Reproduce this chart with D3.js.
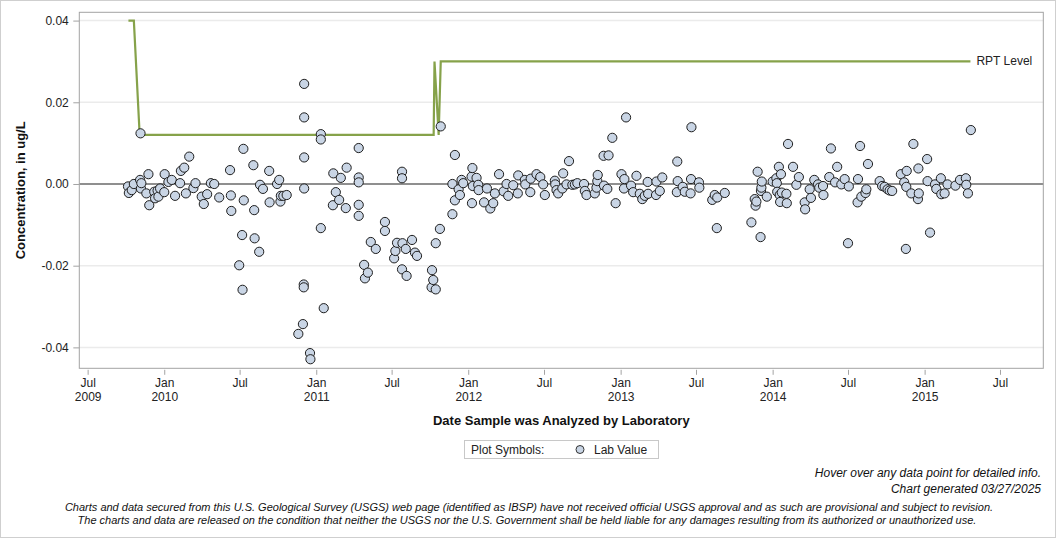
<!DOCTYPE html>
<html>
<head>
<meta charset="utf-8">
<script src="https://cdn.jsdelivr.net/npm/d3@7"></script>
<style>
	body { margin: 0; background: #fff; }
	svg { display: block; font-family: 'Liberation Sans', Arial, sans-serif; }
</style>
</head>
<body>
<div class="content"></div>
<script>
// lab values, [date analyzed, concentration ug/L]
const lab2009 = [
	['2009-10-06', -0.0006], ['2009-10-08', -0.0022], ['2009-10-15', -0.0015], ['2009-10-20', 0.0000],
	['2009-11-04', 0.0010], ['2009-11-05', 0.0124], ['2009-11-06', -0.0011], ['2009-11-07', 0.0002],
	['2009-11-19', -0.0023], ['2009-11-24', 0.0024], ['2009-11-26', -0.0052],
	['2009-12-08', -0.0019], ['2009-12-10', -0.0035], ['2009-12-16', -0.0016], ['2009-12-18', -0.0031], ['2009-12-22', -0.0011]
];
const lab2010 = [
	['2010-01-01', -0.0020], ['2010-01-02', 0.0024], ['2010-01-11', 0.0005], ['2010-01-19', 0.0010], ['2010-01-27', -0.0029],
	['2010-02-08', 0.0002], ['2010-02-10', 0.0032], ['2010-02-18', 0.0040], ['2010-02-22', -0.0023],
	['2010-03-02', 0.0067], ['2010-03-12', -0.0010], ['2010-03-17', 0.0002],
	['2010-04-01', -0.0031], ['2010-04-06', -0.0049], ['2010-04-14', -0.0025], ['2010-04-23', 0.0002],
	['2010-05-01', 0.0000], ['2010-05-13', -0.0033],
	['2010-06-08', 0.0034], ['2010-06-10', -0.0028], ['2010-06-11', -0.0066], ['2010-06-30', -0.0199],
	['2010-07-07', -0.0125], ['2010-07-08', -0.0259], ['2010-07-10', 0.0086], ['2010-07-11', -0.0040],
	['2010-08-03', 0.0046], ['2010-08-05', -0.0064], ['2010-08-06', -0.0133], ['2010-08-17', -0.0166], ['2010-08-19', -0.0002], ['2010-08-26', -0.0012],
	['2010-09-10', 0.0032], ['2010-09-11', -0.0045], ['2010-09-29', 0.0000],
	['2010-10-04', 0.0010], ['2010-10-07', -0.0043], ['2010-10-08', -0.0029], ['2010-10-14', -0.0029], ['2010-10-22', -0.0027],
	['2010-11-19', -0.0367], ['2010-11-30', -0.0343],
	['2010-12-02', -0.0246], ['2010-12-02', -0.0253], ['2010-12-03', 0.0245], ['2010-12-03', 0.0163], ['2010-12-03', 0.0065], ['2010-12-03', -0.0011],
	['2010-12-17', -0.0414], ['2010-12-18', -0.0429]
];
const lab2011 = [
	['2011-01-12', 0.0122], ['2011-01-12', 0.0109], ['2011-01-12', -0.0108], ['2011-01-19', -0.0304],
	['2011-02-10', -0.0052], ['2011-02-11', 0.0026], ['2011-02-17', -0.0020], ['2011-02-25', -0.0039],
	['2011-03-01', 0.0015], ['2011-03-13', -0.0059], ['2011-03-15', 0.0040],
	['2011-04-13', 0.0088], ['2011-04-13', 0.0016], ['2011-04-13', 0.0004], ['2011-04-13', -0.0051], ['2011-04-13', -0.0078],
	['2011-04-26', -0.0198], ['2011-04-28', -0.0231],
	['2011-05-05', -0.0217], ['2011-05-12', -0.0142], ['2011-05-24', -0.0159],
	['2011-06-15', -0.0093], ['2011-06-15', -0.0115],
	['2011-07-07', -0.0182], ['2011-07-10', -0.0164], ['2011-07-14', -0.0144], ['2011-07-26', 0.0030], ['2011-07-26', 0.0014], ['2011-07-26', -0.0209], ['2011-07-27', -0.0145],
	['2011-08-04', -0.0159], ['2011-08-06', -0.0225], ['2011-08-19', -0.0137], ['2011-08-26', -0.0168], ['2011-08-31', -0.0176],
	['2011-10-05', -0.0253], ['2011-10-06', -0.0211], ['2011-10-09', -0.0235], ['2011-10-15', -0.0258], ['2011-10-15', -0.0145], ['2011-10-25', -0.0110], ['2011-10-27', 0.0141],
	['2011-11-24', -0.0074], ['2011-11-24', 0.0000], ['2011-11-30', 0.0071], ['2011-11-30', -0.0040],
	['2011-12-09', -0.0013], ['2011-12-12', -0.0027], ['2011-12-16', 0.0010], ['2011-12-20', 0.0002]
];
const lab2012 = [
	['2012-01-09', 0.0018], ['2012-01-10', -0.0047], ['2012-01-11', 0.0039], ['2012-01-12', -0.0005], ['2012-01-21', 0.0015], ['2012-01-25', -0.0002], ['2012-01-26', -0.0015],
	['2012-02-08', -0.0045], ['2012-02-15', -0.0011], ['2012-02-23', -0.0060],
	['2012-03-01', -0.0047], ['2012-03-05', -0.0023], ['2012-03-15', 0.0024], ['2012-03-26', -0.0018],
	['2012-04-02', 0.0000], ['2012-04-06', -0.0029], ['2012-04-18', -0.0003], ['2012-04-29', -0.0023], ['2012-04-30', 0.0021],
	['2012-05-16', 0.0010], ['2012-05-17', -0.0001], ['2012-05-29', -0.0020], ['2012-05-30', 0.0013],
	['2012-06-13', 0.0024], ['2012-06-22', 0.0017], ['2012-06-29', -0.0001],
	['2012-07-03', -0.0027], ['2012-07-27', 0.0008], ['2012-07-28', -0.0001], ['2012-07-31', -0.0015],
	['2012-08-04', -0.0023], ['2012-08-14', -0.0011], ['2012-08-16', 0.0026], ['2012-08-24', -0.0001], ['2012-08-30', 0.0056],
	['2012-09-07', -0.0002], ['2012-09-13', -0.0001], ['2012-09-19', 0.0002],
	['2012-10-05', 0.0000], ['2012-10-07', -0.0017], ['2012-10-11', -0.0027], ['2012-10-31', -0.0023],
	['2012-11-04', -0.0009], ['2012-11-06', 0.0007], ['2012-11-07', 0.0022], ['2012-11-21', 0.0069], ['2012-11-22', -0.0004], ['2012-11-30', -0.0012],
	['2012-12-03', 0.0070], ['2012-12-12', 0.0113], ['2012-12-20', -0.0047]
];
const lab2013 = [
	['2013-01-03', 0.0024], ['2013-01-09', -0.0011], ['2013-01-10', 0.0012], ['2013-01-14', 0.0163], ['2013-01-26', -0.0004], ['2013-01-31', -0.0020],
	['2013-02-08', 0.0020], ['2013-02-16', -0.0024], ['2013-02-22', -0.0037], ['2013-02-28', -0.0029],
	['2013-03-07', 0.0005], ['2013-03-08', -0.0024], ['2013-03-27', -0.0027], ['2013-03-28', 0.0006],
	['2013-04-05', -0.0017], ['2013-04-11', 0.0016],
	['2013-05-16', -0.0020], ['2013-05-17', 0.0055], ['2013-05-18', 0.0007], ['2013-05-30', -0.0007],
	['2013-06-04', -0.0019], ['2013-06-18', -0.0023], ['2013-06-19', 0.0012], ['2013-06-20', 0.0139],
	['2013-07-08', 0.0004], ['2013-07-09', -0.0009],
	['2013-08-09', -0.0039], ['2013-08-15', -0.0027], ['2013-08-20', -0.0108], ['2013-08-21', -0.0033],
	['2013-09-08', -0.0022],
	['2013-11-11', -0.0094], ['2013-11-19', -0.0037], ['2013-11-21', -0.0053], ['2013-11-23', -0.0043], ['2013-11-26', 0.0030],
	['2013-12-03', -0.0130], ['2013-12-04', -0.0017], ['2013-12-05', -0.0009], ['2013-12-06', 0.0006], ['2013-12-18', -0.0031]
];
const lab2014 = [
	['2014-01-01', 0.0006], ['2014-01-10', 0.0014], ['2014-01-11', 0.0002], ['2014-01-12', -0.0019], ['2014-01-16', 0.0042], ['2014-01-18', -0.0027], ['2014-01-19', -0.0044], ['2014-01-21', 0.0024], ['2014-01-23', -0.0021],
	['2014-02-03', -0.0024], ['2014-02-04', -0.0047], ['2014-02-07', 0.0098], ['2014-02-19', 0.0042], ['2014-02-27', -0.0002],
	['2014-03-05', 0.0017], ['2014-03-19', -0.0045], ['2014-03-20', -0.0062], ['2014-03-31', -0.0013],
	['2014-04-03', -0.0034], ['2014-04-11', 0.0010], ['2014-04-20', -0.0001], ['2014-04-23', -0.0009],
	['2014-05-02', -0.0005], ['2014-05-03', -0.0027], ['2014-05-17', 0.0017], ['2014-05-21', 0.0087], ['2014-05-31', 0.0004],
	['2014-06-05', 0.0042], ['2014-06-15', -0.0001], ['2014-06-23', 0.0012],
	['2014-07-01', -0.0145], ['2014-07-03', -0.0006], ['2014-07-24', -0.0045], ['2014-07-25', 0.0012], ['2014-07-30', 0.0093],
	['2014-08-02', -0.0031], ['2014-08-12', -0.0022], ['2014-08-14', -0.0013], ['2014-08-18', 0.0049],
	['2014-09-15', 0.0007], ['2014-09-21', -0.0005], ['2014-09-27', -0.0007],
	['2014-10-04', -0.0013], ['2014-10-09', -0.0016], ['2014-10-15', -0.0017],
	['2014-11-05', 0.0024], ['2014-11-13', 0.0004], ['2014-11-17', -0.0159], ['2014-11-18', -0.0007], ['2014-11-19', 0.0032], ['2014-11-30', -0.0023],
	['2014-12-05', 0.0098], ['2014-12-16', -0.0037], ['2014-12-17', 0.0038], ['2014-12-18', -0.0023]
];
const lab2015 = [
	['2015-01-07', 0.0061], ['2015-01-08', 0.0007], ['2015-01-14', -0.0119], ['2015-01-26', -0.0001], ['2015-01-29', -0.0012],
	['2015-02-09', 0.0014], ['2015-02-10', -0.0025], ['2015-02-18', -0.0023], ['2015-02-25', -0.0001],
	['2015-03-16', -0.0004], ['2015-03-27', 0.0010],
	['2015-04-10', 0.0014], ['2015-04-11', -0.0002], ['2015-04-15', -0.0023], ['2015-04-22', 0.0132]
];

// reporting level at the sample dates where it changes
const rptLevel = [
	['2009-10-07', 0.04], ['2009-10-20', 0.04], ['2009-11-03', 0.012], ['2011-10-10', 0.012],
	['2011-10-12', 0.03], ['2011-10-22', 0.012], ['2011-10-27', 0.03], ['2015-04-21', 0.03]
];

const xTicks = ['2009-07-01', '2010-01-01', '2010-07-01', '2011-01-01', '2011-07-01', '2012-01-01', '2012-07-01',
	'2013-01-01', '2013-07-01', '2014-01-01', '2014-07-01', '2015-01-01', '2015-07-01'];
const yTicks = [-0.04, -0.02, 0, 0.02, 0.04];

const w = 1056;
const h = 538;
const plot = { left: 79.3, right: 1043.3, top: 12.3, bottom: 368.3 };

const parse = d3.timeParse('%Y-%m-%d');
const points = [].concat(lab2009, lab2010, lab2011, lab2012, lab2013, lab2014, lab2015)
	.map(([d, v]) => ({ date: parse(d), value: v }));
const rpt = rptLevel.map(([d, v]) => ({ date: parse(d), value: v }));

const xScale = d3.scaleTime()
	.domain([parse('2009-06-11'), parse('2015-10-13')])
	.range([plot.left, plot.right]);

const yScale = d3.scaleLinear()
	.domain([-0.04512, 0.04203])
	.range([plot.bottom, plot.top]);

const svg = d3.select('.content').append('svg')
	.attr('width', w)
	.attr('height', h);

svg.append('rect')
	.attr('x', 0.5).attr('y', 0.5)
	.attr('width', w - 1).attr('height', h - 1)
	.attr('fill', '#fff')
	.attr('stroke', '#cfcfcf');

// grid
svg.append('g')
	.selectAll('line')
	.data(yTicks.filter((d) => d !== 0))
	.enter()
	.append('line')
	.attr('x1', plot.left).attr('x2', plot.right)
	.attr('y1', (d) => yScale(d)).attr('y2', (d) => yScale(d))
	.attr('stroke', '#ebebeb')
	.attr('stroke-width', 1.5);

svg.append('line')
	.attr('x1', plot.left).attr('x2', plot.right)
	.attr('y1', yScale(0)).attr('y2', yScale(0))
	.attr('stroke', '#8f8f8f')
	.attr('stroke-width', 2);

// RPT level
const line = d3.line()
	.x((d) => xScale(d.date))
	.y((d) => yScale(d.value));

svg.append('path')
	.datum(rpt)
	.attr('d', line)
	.attr('fill', 'none')
	.attr('stroke', '#86a24a')
	.attr('stroke-width', 2.2);

svg.append('text')
	.attr('x', xScale(rpt[rpt.length - 1].date) + 6)
	.attr('y', yScale(0.03) + 4)
	.style('font-size', '12px')
	.attr('fill', '#222')
	.text('RPT Level');

// lab values
svg.append('g')
	.selectAll('circle')
	.data(points)
	.enter()
	.append('circle')
	.attr('cx', (d) => xScale(d.date))
	.attr('cy', (d) => yScale(d.value))
	.attr('r', 4.6)
	.attr('fill', '#c9d5e5')
	.attr('stroke', '#1e1e1e')
	.attr('stroke-width', 1);

// frame
svg.append('rect')
	.attr('x', plot.left).attr('y', plot.top)
	.attr('width', plot.right - plot.left)
	.attr('height', plot.bottom - plot.top)
	.attr('fill', 'none')
	.attr('stroke', '#a3a3a3');

// axes
const xAxis = d3.axisBottom(xScale)
	.tickValues(xTicks.map(parse))
	.tickSize(5)
	.tickSizeOuter(0)
	.tickFormat('');

const gx = svg.append('g')
	.attr('transform', 'translate(0,' + (plot.bottom + 1.5) + ')')
	.call(xAxis);
gx.select('.domain').remove();
gx.selectAll('.tick line').attr('stroke', '#a3a3a3');
gx.selectAll('.tick').each(function (d, i) {
	const t = d3.select(this).append('text')
		.attr('fill', '#222')
		.attr('text-anchor', 'middle')
		.style('font-size', '12px')
		.style('font-family', "'Liberation Sans', Arial, sans-serif");
	t.append('tspan').attr('x', 0).attr('y', 17.5).text(d3.timeFormat('%b')(d));
	if (d.getMonth() === 0 || i === 0) {
		t.append('tspan').attr('x', 0).attr('y', 31.5).text(d3.timeFormat('%Y')(d));
	}
});

const yAxis = d3.axisLeft(yScale)
	.tickValues(yTicks)
	.tickSize(6)
	.tickSizeOuter(0)
	.tickPadding(4.5)
	.tickFormat((d) => d.toFixed(2));

const gy = svg.append('g')
	.attr('transform', 'translate(' + plot.left + ',0)')
	.call(yAxis);
gy.select('.domain').remove();
gy.selectAll('.tick line').attr('stroke', '#a3a3a3');
gy.selectAll('.tick text')
	.attr('fill', '#222')
	.style('font-size', '12px')
	.style('font-family', "'Liberation Sans', Arial, sans-serif");

// titles
svg.append('text')
	.attr('transform', 'translate(25,' + (plot.top + plot.bottom) / 2 + ') rotate(-90)')
	.attr('text-anchor', 'middle')
	.style('font-size', '13px')
	.style('font-weight', 'bold')
	.attr('fill', '#111')
	.text('Concentration, in ug/L');

svg.append('text')
	.attr('x', (plot.left + plot.right) / 2)
	.attr('y', 424.5)
	.attr('text-anchor', 'middle')
	.style('font-size', '13px')
	.style('font-weight', 'bold')
	.attr('fill', '#111')
	.text('Date Sample was Analyzed by Laboratory');

// legend
const legend = svg.append('g');
legend.append('rect')
	.attr('x', 464.5).attr('y', 440.5)
	.attr('width', 194).attr('height', 18)
	.attr('fill', '#fff')
	.attr('stroke', '#c8c8c8');
legend.append('text')
	.attr('x', 471).attr('y', 454)
	.style('font-size', '12px')
	.attr('fill', '#222')
	.text('Plot Symbols:');
legend.append('circle')
	.attr('cx', 580).attr('cy', 449.5)
	.attr('r', 4)
	.attr('fill', '#c9d5e5')
	.attr('stroke', '#333');
legend.append('text')
	.attr('x', 594).attr('y', 454)
	.style('font-size', '12px')
	.attr('fill', '#222')
	.text('Lab Value');

// notes
const notes = [
	{ x: 1041, y: 477, anchor: 'end', size: 12, text: 'Hover over any data point for detailed info.' },
	{ x: 1041, y: 493, anchor: 'end', size: 12, text: 'Chart generated 03/27/2025' },
	{ x: 529, y: 510.5, anchor: 'middle', size: 11, text: 'Charts and data secured from this U.S. Geological Survey (USGS) web page (identified as IBSP) have not received official USGS approval and as such are provisional and subject to revision.' },
	{ x: 527, y: 523.5, anchor: 'middle', size: 11, text: 'The charts and data are released on the condition that neither the USGS nor the U.S. Government shall be held liable for any damages resulting from its authorized or unauthorized use.' }
];
svg.append('g')
	.selectAll('text')
	.data(notes)
	.enter()
	.append('text')
	.attr('x', (d) => d.x)
	.attr('y', (d) => d.y)
	.attr('text-anchor', (d) => d.anchor)
	.style('font-size', (d) => d.size + 'px')
	.style('font-style', 'italic')
	.attr('fill', '#111')
	.text((d) => d.text);
</script>
</body>
</html>
